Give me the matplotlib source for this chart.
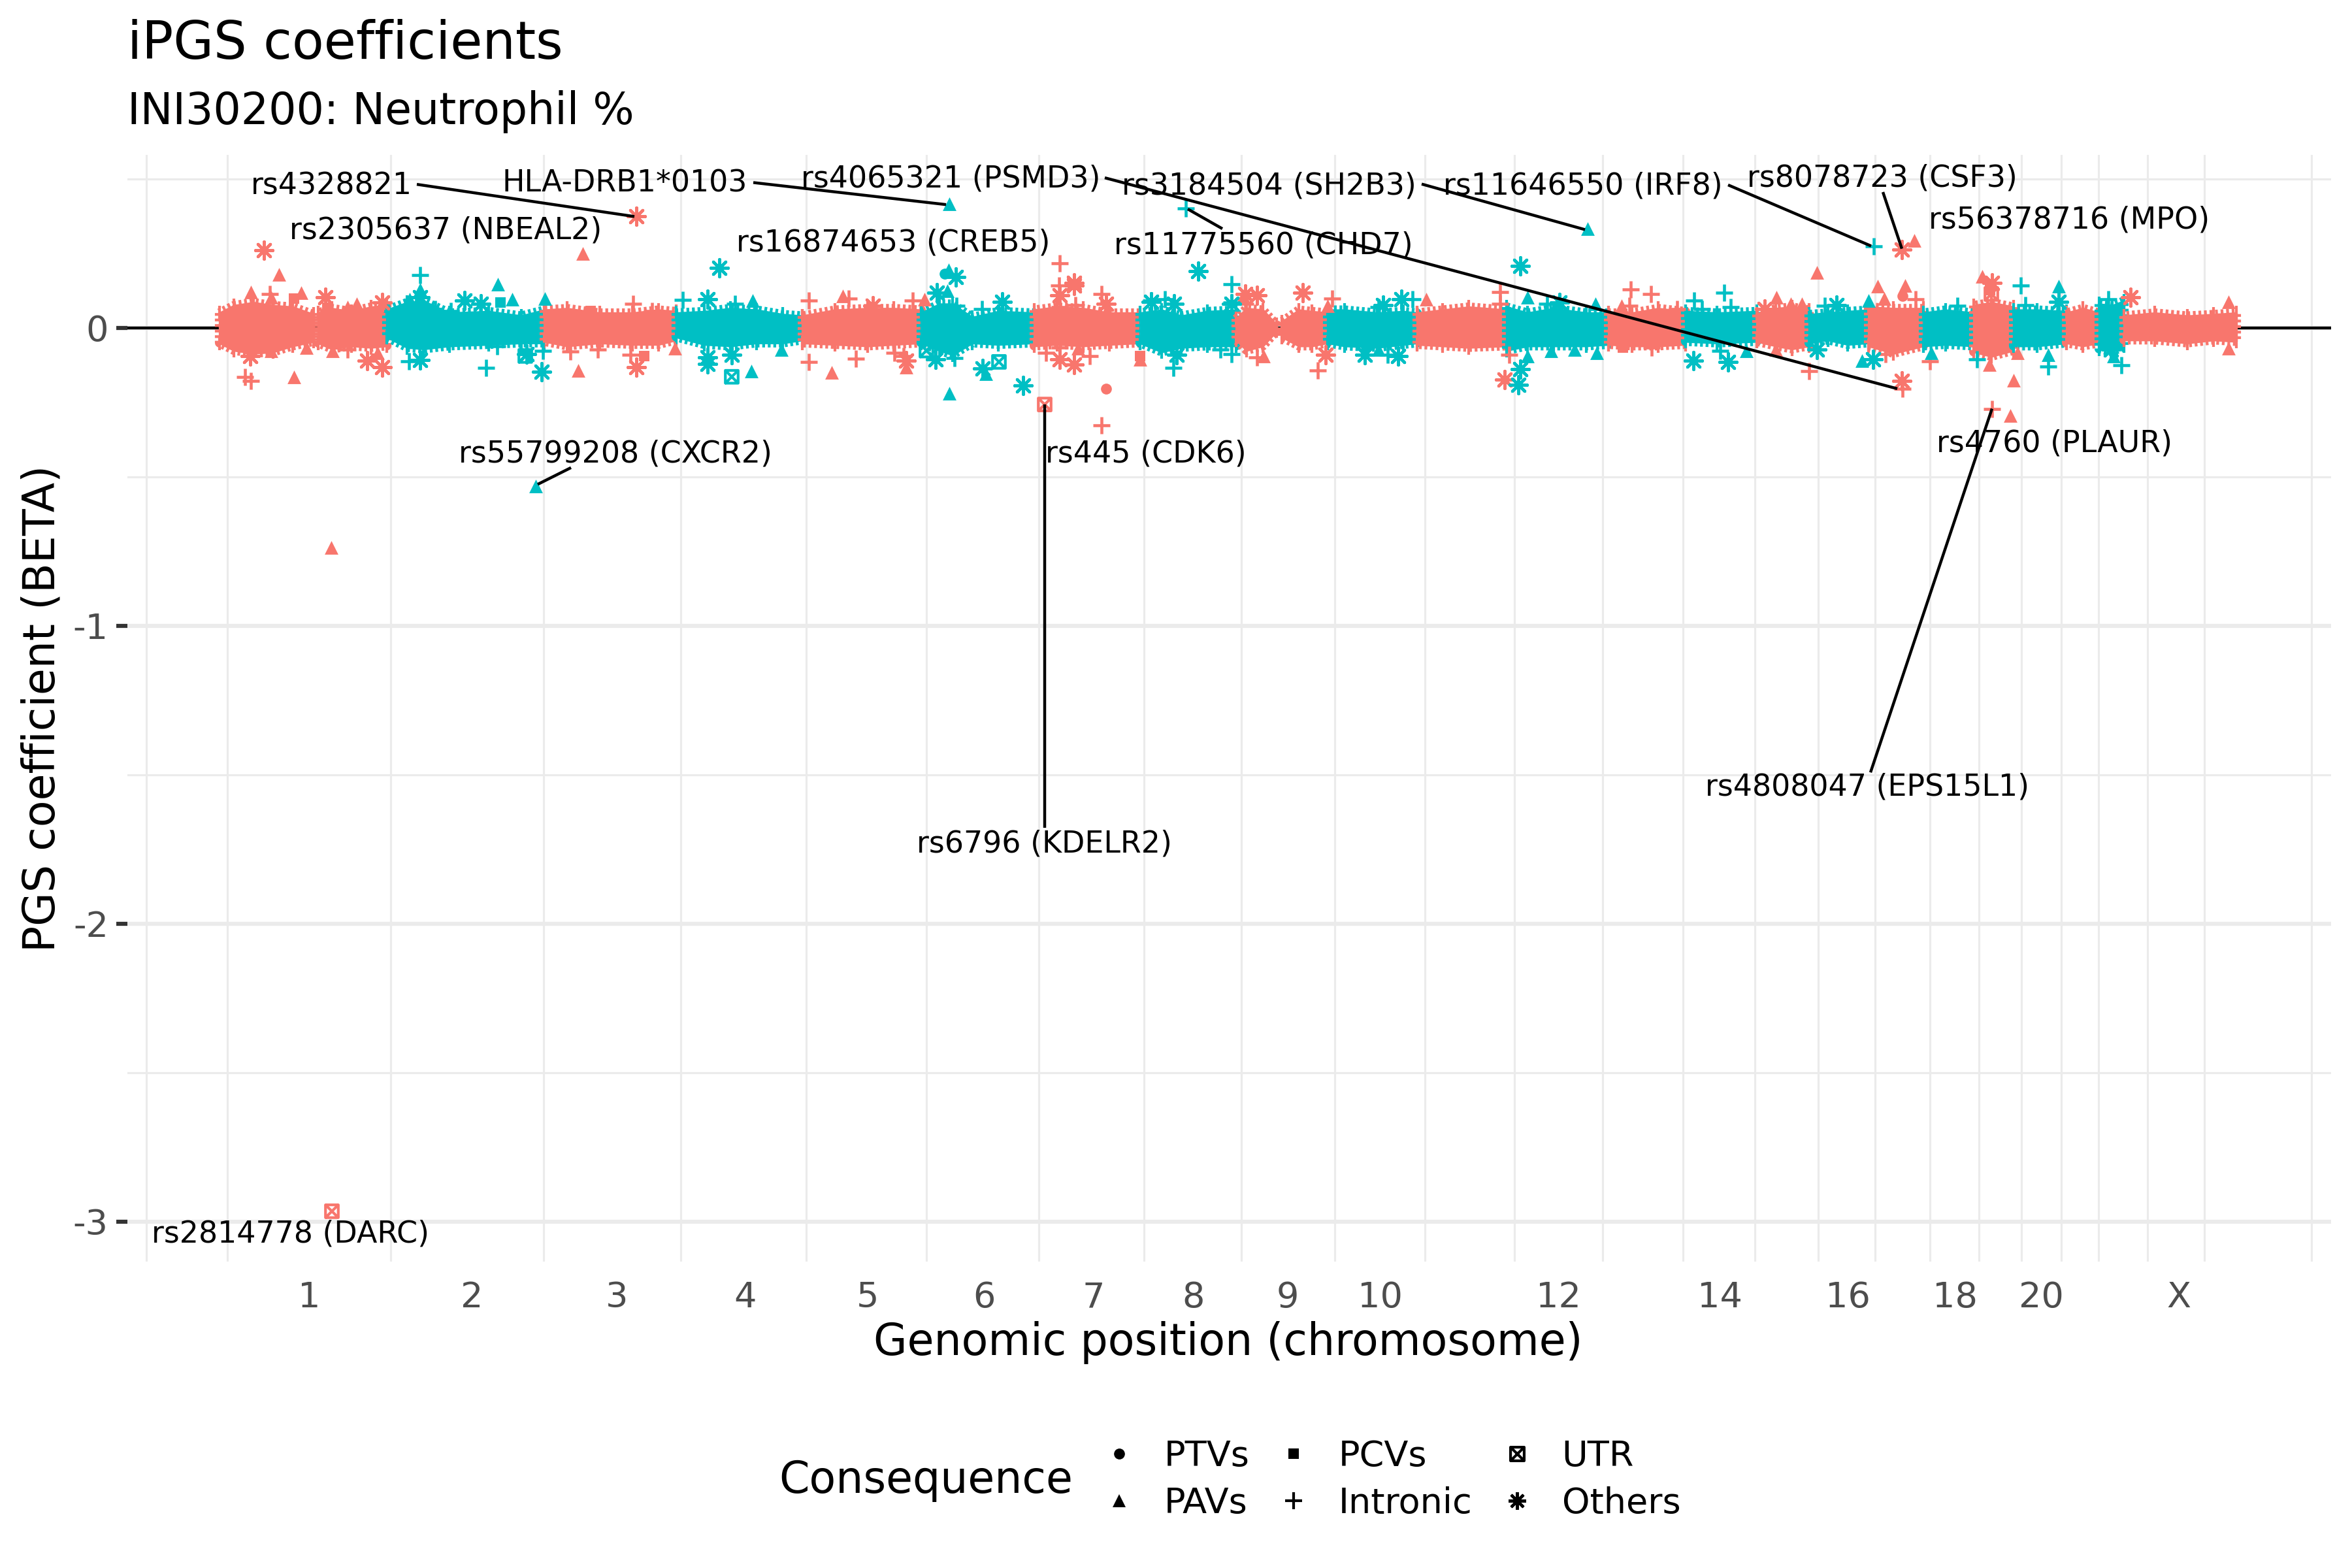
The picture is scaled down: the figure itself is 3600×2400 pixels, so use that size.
import matplotlib
matplotlib.use("Agg")
import matplotlib.pyplot as plt
from matplotlib.lines import Line2D
from matplotlib.path import Path

plt.rcParams['font.family'] = 'DejaVu Sans'
plt.rcParams['axes.unicode_minus'] = False

SALMON = '#F8766D'
TEAL = '#00BFC4'

# chromosome borders along the genome (cumulative Mb)
chrom_bounds = [-124, 0, 250, 484, 694, 886, 1070, 1242, 1403, 1552, 1695, 1833, 1970,
                2105, 2228, 2338, 2435, 2522, 2606, 2681, 2746, 2807, 2864, 2939, 3026, 3190]
chrom_ticks = [125, 374, 596, 793, 980, 1158, 1326, 1479, 1623, 1764, 2037, 2285, 2480, 2645, 2776, 2987]
chrom_labels = ['1', '2', '3', '4', '5', '6', '7', '8', '9', '10', '12', '14', '16', '18', '20', 'X']

# the dense band around zero, read as an envelope for each stretch of the genome
band_colors = [SALMON, SALMON, TEAL, SALMON, TEAL, SALMON, TEAL, SALMON, TEAL, SALMON, SALMON, TEAL,
               SALMON, TEAL, SALMON, TEAL, SALMON, TEAL, SALMON, TEAL, SALMON, TEAL, SALMON, TEAL, SALMON]
band_pos = [[-12, 10, 40, 70, 100, 132], [139, 160, 190, 220, 244], [244, 275, 300, 340, 400, 450, 485],
            [485, 520, 570, 620, 660, 687], [687, 730, 770, 810, 850, 880], [880, 930, 980, 1020, 1062],
            [1062, 1090, 1110, 1140, 1180, 1235], [1235, 1270, 1310, 1350, 1397], [1397, 1430, 1460, 1500, 1544],
            [1544, 1560, 1585, 1606], [1614, 1640, 1660, 1684], [1684, 1710, 1760, 1800, 1821],
            [1821, 1860, 1900, 1958], [1958, 1990, 2030, 2080, 2114], [2114, 2150, 2190, 2232],
            [2232, 2280, 2341], [2341, 2370, 2395, 2421], [2421, 2450, 2480, 2512], [2512, 2550, 2596],
            [2596, 2630, 2673], [2673, 2700, 2734], [2734, 2770, 2815], [2815, 2840, 2865],
            [2865, 2885, 2903], [2903, 2950, 3000, 3040, 3075]]
band_hi = [[.05, .075, .085, .075, .07, .045], [.05, .065, .055, .07, .075], [.06, .085, .09, .05, .055, .04, .06],
           [.06, .065, .05, .05, .06, .055], [.05, .055, .065, .06, .045, .04], [.04, .06, .065, .065, .06],
           [.05, .08, .08, .035, .055, .05], [.06, .07, .065, .05, .05], [.05, .06, .04, .055, .06],
           [.03, .065, .06, .01], [.02, .06, .055, .05], [.06, .06, .05, .055, .05],
           [.05, .06, .07, .06], [.07, .05, .065, .05, .05], [.05, .05, .065, .055],
           [.055, .05, .055], [.045, .065, .07, .06], [.045, .05, .055, .06], [.07, .065, .065],
           [.05, .06, .05], [.075, .085, .07], [.06, .06, .055], [.05, .065, .05],
           [.08, .075, .09], [.04, .05, .04, .045, .05]]
band_lo = [[-.05, -.075, -.085, -.08, -.06, -.045], [-.05, -.07, -.06, -.065, -.06],
           [-.03, -.065, -.07, -.06, -.055, -.05, -.05], [-.045, -.06, -.05, -.055, -.055, -.04],
           [-.03, -.055, -.06, -.05, -.05, -.04], [-.05, -.055, -.06, -.055, -.05],
           [-.05, -.075, -.09, -.05, -.055, -.05], [-.06, -.055, -.06, -.055, -.05],
           [-.05, -.08, -.065, -.06, -.06], [-.04, -.075, -.06, -.01], [-.03, -.06, -.06, -.05],
           [-.05, -.06, -.065, -.055, -.05], [-.055, -.06, -.065, -.06], [-.075, -.06, -.06, -.06, -.055],
           [-.055, -.06, -.06, -.055], [-.045, -.05, -.045], [-.045, -.06, -.07, -.06],
           [-.05, -.04, -.055, -.05], [-.06, -.085, -.06], [-.06, -.055, -.06], [-.08, -.095, -.075],
           [-.06, -.06, -.05], [-.05, -.06, -.05], [-.07, -.08, -.06], [-.04, -.04, -.05, -.04, -.045]]

# variants standing clear of the band: odd chromosomes
odd_other_pos = [56, 150, 237, 35, 214, 237, 626, 626, 988, 1274, 1296, 1296, 1345, 1274, 1296, 1039, 1558, 1576,
                 1646, 1681, 1955, 2563, 2563, 2913, 2353, 2701]
odd_other_beta = [.26, .103, .085, -.094, -.109, -.131, .374, -.131, .074, .11, .151, .143, .081, -.105, -.124,
                  -.109, .114, .11, .119, -.091, -.173, .262, -.178, .103, .063, .151]
odd_pav_pos = [79, 36, 113, 67, 184, 198, 544, 537, 102, 121, 67, 161, 230, 685, 159, 942, 1067, 925, 1039, 1302,
               1397, 1586, 1684, 1835, 1555, 2582, 2433, 2371, 2393, 2410, 2526, 2568, 2536, 2686, 3063, 3063, 2734,
               2729, 2697, 2134, 2370, 2740]
odd_pav_beta = [.18, .121, .118, .103, .07, .081, .249, -.142, -.165, -.065, -.076, -.076, -.083, -.069, -.737,
                .107, .096, -.149, -.131, -.069, -.105, -.094, .074, .096, .107, .293, .187, .103, .081, .081, .14,
                .143, .099, .173, .088, -.069, -.175, -.295, -.124, .074, -.072, -.083]
odd_intron_pos = [65, 27, 36, 621, 650, 525, 567, 617, 890, 890, 184, 1274, 1273, 1338, 1049, 1274, 1298, 962, 1021,
                  1035, 1253, 1274, 1320, 1338, 1576, 1669, 1948, 1948, 1691, 1558, 1962, 951, 2148, 2179, 2146,
                  2219, 2180, 2421, 2606, 2564, 2701, 2584, 2538]
odd_intron_beta = [.114, -.164, -.178, .081, .056, -.08, -.072, -.089, .092, -.115, -.072, .218, .143, .114, .092,
                   .07, .077, -.103, -.083, -.094, -.083, -.065, -.094, -.326, -.099, -.142, .121, .081, .099, .081,
                   -.091, .099, .129, .114, .074, .063, -.065, -.145, -.111, -.204, -.271, .096, -.087]
odd_pcv_pos = [102, 638, 153, 556, 1397, 2698, 2136]
odd_pcv_beta = [.098, -.094, .067, .056, -.094, .127, -.065]
odd_ptv_pos = [1345, 2564]
odd_ptv_beta = [-.204, .107]
odd_utr_pos = [160, 1251, 2700]
odd_utr_beta = [-2.965, -.257, .114]

# variants standing clear of the band: even chromosomes
even_other_pos = [295, 363, 388, 735, 753, 295, 481, 735, 735, 772, 458, 1486, 1115, 1086, 1186, 1449, 1414, 1979,
                  1084, 1156, 1218, 1453, 1741, 1792, 1979, 1976, 1797, 1769, 1537, 2039, 2463, 2803, 2244, 2297,
                  2519, 2433, 2883]
even_other_beta = [.103, .092, .081, .096, .202, -.107, -.147, -.098, -.12, -.089, -.087, .191, .17, .118, .088,
                   .081, .088, .208, -.105, -.137, -.194, -.091, -.091, -.094, -.138, -.191, .096, .077, .081, .085,
                   .077, .088, -.11, -.115, -.105, -.072, -.072]
even_pav_pos = [295, 279, 414, 436, 486, 804, 802, 848, 472, 1105, 1104, 1102, 1161, 1105, 1990, 1990, 1762, 2082,
                2094, 2803, 2512, 2502, 2026, 2062, 2096, 2787, 2887, 2608, 2325]
even_pav_beta = [.129, .096, .147, .096, .098, .092, -.145, -.072, -.531, .417, .194, .125, -.153, -.22, .103,
                 -.094, -.072, .333, .081, .14, .092, -.109, -.076, -.072, -.083, -.091, -.094, -.083, -.076]
even_intron_pos = [295, 697, 777, 278, 396, 318, 342, 483, 772, 413, 1467, 1537, 1435, 1155, 1116, 1448, 1537, 1520,
                   1113, 1776, 1814, 1762, 1537, 1414, 2020, 2245, 2291, 2301, 2257, 2520, 2445, 2745, 2648, 2752,
                   2879, 2787, 2899, 2285, 2678]
even_intron_beta = [.178, .095, .081, -.113, -.133, .063, .056, -.076, -.089, -.061, .401, .147, .096, .063, .074,
                    -.135, -.087, -.072, -.102, -.091, .096, .07, .085, .092, .081, .092, .118, .07, .063, .273,
                    .074, .143, .074, .077, .096, -.129, -.125, -.077, -.105]
even_pcv_pos = [418]
even_pcv_beta = [.085]
even_ptv_pos = [1098]
even_ptv_beta = [.182]
even_utr_pos = [456, 772, 1181, 1070]
even_utr_beta = [-.094, -.164, -.114, -.076]

# labelled variants: text, text position
label_texts = ['rs4328821', 'rs2305637 (NBEAL2)', 'HLA-DRB1*0103', 'rs4065321 (PSMD3)', 'rs16874653 (CREB5)',
               'rs3184504 (SH2B3)', 'rs11775560 (CHD7)', 'rs11646550 (IRF8)', 'rs8078723 (CSF3)',
               'rs56378716 (MPO)', 'rs55799208 (CXCR2)', 'rs445 (CDK6)', 'rs4760 (PLAUR)', 'rs6796 (KDELR2)',
               'rs4808047 (EPS15L1)', 'rs2814778 (DARC)']
label_pos = [159, 334, 608, 1107, 1019, 1594, 1586, 2075, 2533, 2819, 594, 1406, 2796, 1250, 2510, 96]
label_beta = [.476, .326, .485, .5, .285, .476, .276, .476, .501, .362, -.423, -.423, -.388, -1.732, -1.541, -3.041]

# leader lines: from the label to the variant
seg_pos0 = [290, 805, 1343, 1523, 1828, 2297, 2534, 526, 1251, 2515]
seg_beta0 = [.482, .488, .504, .333, .483, .48, .456, -.469, -1.678, -1.492]
seg_pos1 = [623, 1100, 2556, 1470, 2078, 2516, 2563, 475, 1251, 2701]
seg_beta1 = [.374, .414, -.204, .399, .33, .275, .266, -.525, -.257, -.271]

utr_marker = Path([(-1, -1), (1, -1), (1, 1), (-1, 1), (-1, -1), (1, 1), (-1, 1), (1, -1)],
                  [Path.MOVETO, Path.LINETO, Path.LINETO, Path.LINETO, Path.LINETO, Path.LINETO, Path.MOVETO, Path.LINETO])
other_marker = (8, 2, 0)

fig = plt.figure(figsize=(12, 8), dpi=300)
ax = fig.add_axes([195 / 3600, 1 - 1931 / 2400, 3373 / 3600, 1694 / 2400])

ax.set_xlim(-153, 3220)
ax.set_ylim(-3.134, 0.581)
for side in ax.spines.values():
    side.set_visible(False)

# gridlines sit on chromosome borders, labels in the middle of each chromosome
ax.set_xticks(chrom_ticks)
ax.set_xticklabels(chrom_labels)
ax.set_xticks(chrom_bounds, minor=True)
ax.set_yticks([0, -1, -2, -3])
ax.set_yticklabels(['0', '-1', '-2', '-3'])
ax.set_yticks([0.5, -0.5, -1.5, -2.5], minor=True)
ax.tick_params(axis='x', which='both', length=0, labelsize=13, labelcolor='#4D4D4D', pad=7)
ax.tick_params(axis='y', which='major', length=4, width=1.5, color='#333333', labelsize=13,
               labelcolor='#4D4D4D', pad=3)
ax.tick_params(axis='y', which='minor', length=0)
ax.grid(True, axis='y', which='major', color='#EBEBEB', lw=1.5, zorder=0)
ax.grid(True, which='minor', color='#EBEBEB', lw=0.75, zorder=0)
ax.set_axisbelow(True)

ax.axhline(0, color='black', lw=1.07, zorder=1)

# the band: solid core, then a fine dashed outline that gives the edge its bristly look
for pos, hi, lo, col in zip(band_pos, band_hi, band_lo, band_colors):
    ax.fill_between(pos, lo, hi, facecolor=col, edgecolor=col, lw=0.8, joinstyle='round', zorder=2)
    ax.fill_between(pos, lo, hi, facecolor='none', edgecolor=col, lw=3.4, linestyle=(0, (0.3, 0.3)),
                    capstyle='butt', joinstyle='round', zorder=2)
    ax.scatter(pos, hi, marker='|', s=30, color=col, lw=1.0, zorder=2)
    ax.scatter(pos, lo, marker='|', s=30, color=col, lw=1.0, zorder=2)


def draw_points(col, ptv, pav, pcv, intron, utr, other):
    ax.scatter(ptv[0], ptv[1], marker='o', s=16, color=col, lw=0, zorder=3)
    ax.scatter(pav[0], pav[1], marker='^', s=25, color=col, lw=0, zorder=3)
    ax.scatter(pcv[0], pcv[1], marker='s', s=16, color=col, lw=0, zorder=3)
    ax.scatter(intron[0], intron[1], marker='+', s=41, color=col, lw=1.1, zorder=3)
    ax.scatter(utr[0], utr[1], marker=utr_marker, s=22, facecolors='none', edgecolors=col, lw=1.0, zorder=3)
    ax.scatter(other[0], other[1], marker=other_marker, s=41, color=col, lw=1.1, zorder=3)


draw_points(SALMON, (odd_ptv_pos, odd_ptv_beta), (odd_pav_pos, odd_pav_beta), (odd_pcv_pos, odd_pcv_beta),
            (odd_intron_pos, odd_intron_beta), (odd_utr_pos, odd_utr_beta), (odd_other_pos, odd_other_beta))
draw_points(TEAL, (even_ptv_pos, even_ptv_beta), (even_pav_pos, even_pav_beta), (even_pcv_pos, even_pcv_beta),
            (even_intron_pos, even_intron_beta), (even_utr_pos, even_utr_beta), (even_other_pos, even_other_beta))

for x0, y0, x1, y1 in zip(seg_pos0, seg_beta0, seg_pos1, seg_beta1):
    ax.plot([x0, x1], [y0, y1], color='black', lw=1.07, zorder=4, solid_capstyle='butt')
for txt, x, y in zip(label_texts, label_pos, label_beta):
    ax.text(x, y, txt, fontsize=11, ha='center', va='center', color='black', zorder=5)

ax.set_xlabel('')
fig.text(1880 / 3600, 1 - 2055 / 2400, 'Genomic position (chromosome)', fontsize=16, ha='center', va='center')
fig.text(65 / 3600, 1 - 1084 / 2400, 'PGS coefficient (BETA)', fontsize=16, rotation=90, ha='center', va='center')
fig.text(195 / 3600, 1 - 90 / 2400, 'iPGS coefficients', fontsize=19.15, ha='left', va='baseline')
fig.text(195 / 3600, 1 - 190 / 2400, 'INI30200: Neutrophil %', fontsize=16, ha='left', va='baseline')

# legend: title on the left, three columns of symbols
fig.text(1192 / 3600, 1 - 2266 / 2400, 'Consequence', fontsize=16, ha='left', va='center')
legend_names = ['PTVs', 'PAVs', 'PCVs', 'Intronic', 'UTR', 'Others']
legend_markers = ['o', '^', 's', '+', utr_marker, other_marker]
legend_sizes = [4, 5, 4, 6.4, 5, 6.4]
handles = []
for name, mk, size in zip(legend_names, legend_markers, legend_sizes):
    filled = mk in ['o', '^', 's']
    handles.append(Line2D([], [], linestyle='none', marker=mk, markersize=size, label=name,
                          markerfacecolor='black' if filled else 'none', markeredgecolor='black',
                          markeredgewidth=0 if filled else 1.0))
fig.legend(handles=handles, ncol=3, loc='center left', bbox_to_anchor=(1686 / 3600, 1 - 2265 / 2400), frameon=False,
           fontsize=13, handlelength=1.0, handletextpad=0.77, columnspacing=0.75, labelspacing=0.38,
           borderpad=0, borderaxespad=0)

fig.savefig('out.png', dpi=300)
